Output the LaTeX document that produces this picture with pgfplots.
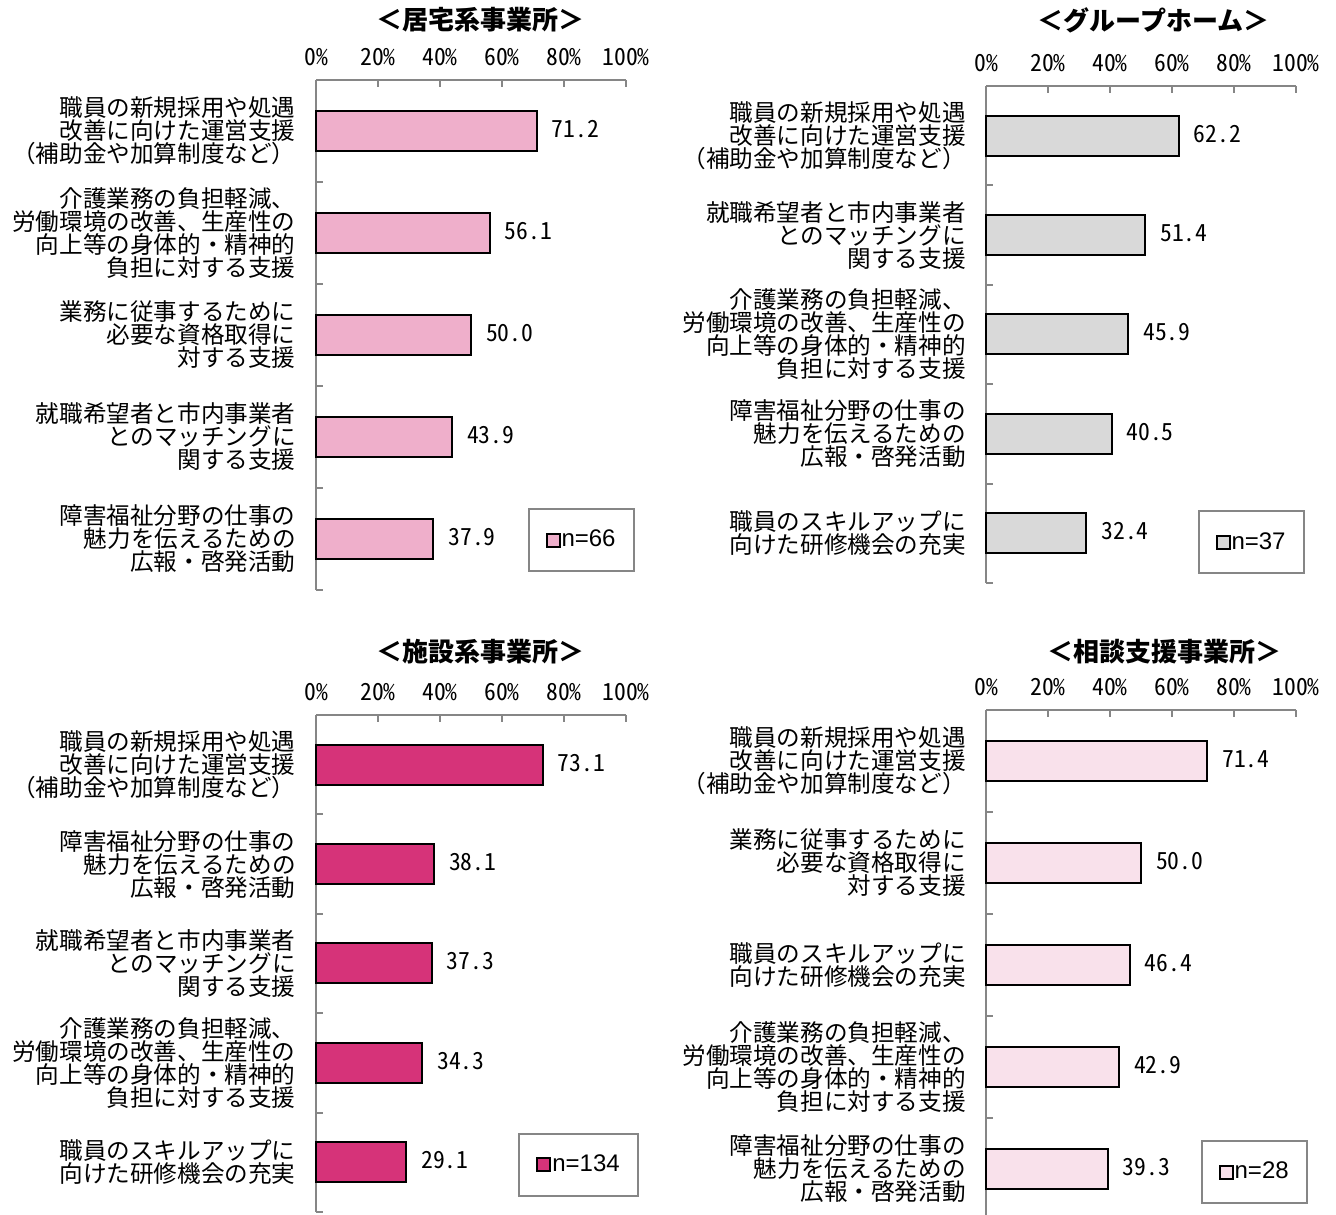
\documentclass[border=0pt]{standalone}
\usepackage{pgfplots}
\pgfplotsset{compat=1.18}
\usepackage{fontspec}
\setmainfont{Noto Sans CJK JP}
\newfontfamily\hw{Noto Sans CJK JP}[RawFeature=+hwid]
\newfontfamily\lsans{Liberation Sans}
\definecolor{axgray}{RGB}{134,134,134}
\definecolor{cA}{RGB}{239,175,203}
\definecolor{cB}{RGB}{217,217,217}
\definecolor{cC}{RGB}{214,51,121}
\definecolor{cD}{RGB}{249,225,235}
\newcommand\lab{\fontsize{11.8}{11.5}\selectfont}
\newcommand\num{\hw\fontsize{11.8}{12}\selectfont}
\pgfplotsset{
 panel/.style={
  xbar, scale only axis, width=155pt,
  xmin=0, xmax=100, ymin=0.5, ymax=5.5,
  axis x line=top, axis y line=left,
  axis line style={-, draw=axgray, line width=1pt},
  xtick={0,20,40,60,80,100},
  xticklabels={0\%,20\%,40\%,60\%,80\%,100\%},
  tick align=inside,
  major tick length=3.5pt, minor tick length=3.5pt,
  tick style={draw=axgray, line width=1pt},
  xticklabel style={font=\num, anchor=base, inner sep=0pt, yshift=7pt},
  ytick={1,2,3,4,5},
  minor ytick={0.5,1.5,2.5,3.5,4.5,5.5},
  every major y tick/.append style={draw=none},
  yticklabel style={font=\lab, align=right, anchor=east, inner sep=0pt, xshift=-10pt},
  bar width=20pt,
  /pgf/number format/.cd, fixed, fixed zerofill, precision=1, assume math mode=true,
  /pgfplots/.cd,
  nodes near coords,
  nodes near coords style={font=\num, anchor=west, inner sep=0pt, xshift=7pt, yshift=1pt},
  legend image code/.code={\draw[#1, line width=1pt] (0pt,-3.25pt) rectangle (6.5pt,3.25pt);},
  legend style={draw=axgray, line width=1pt, font=\lsans\fontsize{12}{12}\selectfont, inner xsep=8.5pt, inner ysep=10pt, anchor=center, cells={anchor=west}, nodes={inner sep=0.5pt}},
  title style={font=\fontsize{13}{13}\selectfont\bfseries, anchor=center},
  clip=false,
 }
}
\begin{document}
\begin{tikzpicture}
\path[use as bounding box] (0pt,0pt) rectangle (668pt,607pt);
% Panel 1
\begin{axis}[panel, height=255pt, at={(158pt,567pt)}, anchor=north west,
  title={＜居宅系事業所＞}, title style={at={(0.53,1)}, yshift=24pt},
  yticklabels={{障害福祉分野の仕事の\\魅力を伝えるための\\広報・啓発活動},
               {就職希望者と市内事業者\\とのマッチングに\\関する支援},
               {業務に従事するために\\必要な資格取得に\\対する支援},
               {介護業務の負担軽減、\\労働環境の改善、生産性の\\向上等の身体的・精神的\\負担に対する支援},
               {職員の新規採用や処遇\\改善に向けた運営支援\\（補助金や加算制度など）}},
  legend style={at={(0.855,0.098)}}]
\addplot[fill=cA, draw=black, line width=1pt] coordinates {(71.2,5) (56.1,4) (50.0,3) (43.9,2) (37.9,1)};
\addlegendentry{n=66}
\end{axis}
% Panel 2
\begin{axis}[panel, height=248.5pt, at={(493pt,564pt)}, anchor=north west,
  title={＜グループホーム＞}, title style={at={(0.54,1)}, yshift=27pt},
  yticklabels={{職員のスキルアップに\\向けた研修機会の充実},
               {障害福祉分野の仕事の\\魅力を伝えるための\\広報・啓発活動},
               {介護業務の負担軽減、\\労働環境の改善、生産性の\\向上等の身体的・精神的\\負担に対する支援},
               {就職希望者と市内事業者\\とのマッチングに\\関する支援},
               {職員の新規採用や処遇\\改善に向けた運営支援\\（補助金や加算制度など）}},
  legend style={at={(0.855,0.082)}}]
\addplot[fill=cB, draw=black, line width=1pt] coordinates {(62.2,5) (51.4,4) (45.9,3) (40.5,2) (32.4,1)};
\addlegendentry{n=37}
\end{axis}
% Panel 3
\begin{axis}[panel, height=248.5pt, at={(158pt,249.5pt)}, anchor=north west,
  title={＜施設系事業所＞}, title style={at={(0.53,1)}, yshift=25.5pt},
  yticklabels={{職員のスキルアップに\\向けた研修機会の充実},
               {介護業務の負担軽減、\\労働環境の改善、生産性の\\向上等の身体的・精神的\\負担に対する支援},
               {就職希望者と市内事業者\\とのマッチングに\\関する支援},
               {障害福祉分野の仕事の\\魅力を伝えるための\\広報・啓発活動},
               {職員の新規採用や処遇\\改善に向けた運営支援\\（補助金や加算制度など）}},
  legend style={at={(0.847,0.095)}}]
\addplot[fill=cC, draw=black, line width=1pt] coordinates {(73.1,5) (38.1,4) (37.3,3) (34.3,2) (29.1,1)};
\addlegendentry{n=134}
\end{axis}
% Panel 4
\begin{axis}[panel, height=255pt, at={(493pt,252pt)}, anchor=north west,
  title={＜相談支援事業所＞}, title style={at={(0.577,1)}, yshift=23pt},
  yticklabels={{障害福祉分野の仕事の\\魅力を伝えるための\\広報・啓発活動},
               {介護業務の負担軽減、\\労働環境の改善、生産性の\\向上等の身体的・精神的\\負担に対する支援},
               {職員のスキルアップに\\向けた研修機会の充実},
               {業務に従事するために\\必要な資格取得に\\対する支援},
               {職員の新規採用や処遇\\改善に向けた運営支援\\（補助金や加算制度など）}},
  legend style={at={(0.865,0.094)}}]
\addplot[fill=cD, draw=black, line width=1pt] coordinates {(71.4,5) (50.0,4) (46.4,3) (42.9,2) (39.3,1)};
\addlegendentry{n=28}
\end{axis}
\end{tikzpicture}
\end{document}
